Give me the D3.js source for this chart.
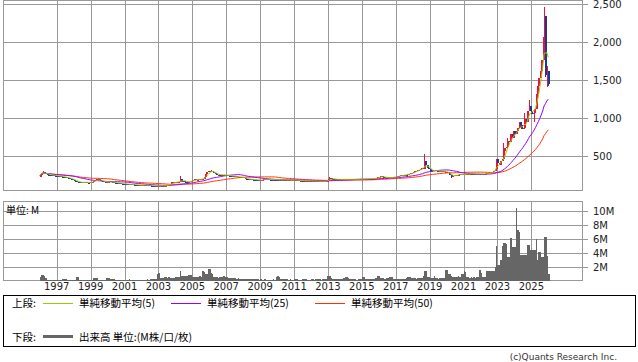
<!DOCTYPE html>
<html>
<head>
<meta charset="utf-8">
<script src="https://cdn.jsdelivr.net/npm/d3@7"></script>
<style>
  body { margin: 0; background: #fff; }
  svg { display: block; font-family: "DejaVu Sans", sans-serif; }
</style>
</head>
<body>
<div id="chart"></div>
<script>
// monthly bars, Jan 1996 .. Jan 2026 (one row per year)
const firstOpen = 215;
const closes = [
  240, 275, 290, 270, 258, 250, 248, 245, 242, 240, 236, 235,
  232, 230, 226, 224, 220, 216, 212, 208, 205, 198, 190, 180,
  172, 165, 158, 150, 146, 140, 148, 154, 150, 144, 140, 148,
  152, 158, 165, 178, 192, 186, 176, 166, 160, 154, 150, 150,
  155, 160, 150, 148, 145, 142, 140, 136, 135, 132, 130, 128,
  126, 125, 122, 120, 118, 120, 117, 115, 114, 112, 110, 110,
  112, 112, 110, 108, 110, 107, 105, 103, 102, 100, 100, 98,
  101, 104, 100, 98, 100, 104, 110, 118, 132, 148, 155, 145,
  150, 152, 158, 190, 172, 162, 158, 155, 152, 155, 162, 172,
  182, 186, 180, 185, 190, 186, 190, 196, 222, 252, 280, 300,
  292, 302, 282, 266, 256, 250, 250, 246, 250, 244, 240, 246,
  240, 238, 234, 230, 232, 228, 225, 222, 220, 218, 214, 212,
  208, 198, 190, 185, 190, 188, 185, 184, 182, 180, 177, 175,
  180, 182, 186, 190, 188, 186, 184, 183, 182, 185, 183, 180,
  178, 182, 178, 182, 180, 178, 176, 180, 178, 175, 176, 178,
  180, 178, 175, 164, 170, 172, 170, 168, 170, 164, 168, 166,
  165, 165, 163, 165, 162, 160, 162, 160, 158, 160, 163, 172,
  195, 205, 196, 190, 186, 189, 186, 187, 186, 187, 186, 187,
  188, 188, 187, 188, 189, 188, 189, 190, 190, 189, 190, 191,
  192, 193, 194, 196, 198, 197, 196, 198, 197, 202, 208, 214,
  222, 232, 222, 212, 210, 208, 212, 216, 210, 213, 216, 222,
  226, 230, 236, 240, 238, 246, 250, 248, 256, 262, 266, 272,
  282, 292, 300, 310, 316, 325, 334, 330, 432, 380, 340, 318,
  290, 302, 312, 305, 300, 295, 290, 296, 300, 292, 286, 290,
  280, 268, 246, 214, 230, 240, 246, 250, 248, 252, 254, 250,
  256, 256, 262, 258, 263, 260, 258, 255, 260, 263, 258, 255,
  258, 262, 258, 262, 266, 268, 265, 272, 285, 300, 330, 455,
  402, 380, 425, 455, 560, 600, 620, 700, 680, 790, 740, 830,
  780, 830, 870, 950, 900, 850, 870, 990, 950, 1090, 1150, 1090,
  1050, 1070, 1120, 1320, 1420, 1520, 1620, 1760, 2000, 2350, 1560, 1620,
  1450
];

// volume in millions, same months
const volumes = [
  0.55, 0.8, 0.8, 0.6, 0.3, 0.1, 0.06, 0.05, 0.06, 0.1, 0.05, 0.04,
  0.05, 0.05, 0.06, 0.1, 0.25, 0.25, 0.22, 0.06, 0.05, 0.05, 0.04, 0.05,
  0.06, 0.05, 0.5, 0.45, 0.06, 0.05, 0.05, 0.04, 0.05, 0.05, 0.04, 0.05,
  0.05, 0.1, 0.3, 0.35, 0.33, 0.12, 0.05, 0.05, 0.06, 0.05, 0.05, 0.3,
  0.32, 0.3, 0.25, 0.18, 0.15, 0.1, 0.1, 0.12, 0.1, 0.08, 0.1, 0.08,
  0.1, 0.1, 0.12, 0.15, 0.1, 0.08, 0.1, 0.12, 0.08, 0.1, 0.1, 0.08,
  0.1, 0.1, 0.08, 0.12, 0.15, 0.1, 0.25, 0.25, 0.2, 0.25, 0.22, 1.0,
  1.05, 0.35, 0.35, 0.3, 0.45, 0.45, 0.4, 0.45, 0.35, 0.35, 0.3, 0.35,
  0.45, 0.45, 0.5, 1.3, 0.6, 0.65, 0.7, 0.7, 0.7, 0.75, 0.8, 0.8,
  0.45, 0.45, 0.45, 0.55, 0.55, 0.6, 0.55, 1.3, 1.25, 0.9, 0.95, 1.65,
  1.7, 1.05, 1.0, 0.5, 0.45, 0.45, 0.4, 0.45, 0.5, 0.55, 0.6, 0.55,
  0.55, 0.35, 0.35, 0.35, 0.3, 0.35, 0.3, 0.25, 0.3, 0.25, 0.2, 0.25,
  0.25, 0.25, 0.2, 0.25, 0.2, 0.15, 0.2, 0.15, 0.15, 0.2, 0.15, 0.12,
  0.15, 0.1, 0.12, 0.15, 0.1, 0.1, 0.12, 0.1, 0.1, 0.15, 0.12, 0.55,
  0.6, 0.55, 0.25, 0.25, 0.2, 0.2, 0.15, 0.15, 0.1, 0.15, 0.1, 0.12,
  0.25, 0.2, 0.15, 0.1, 0.12, 0.1, 0.15, 0.2, 0.15, 0.1, 0.12, 0.1,
  0.2, 0.15, 0.12, 0.2, 0.25, 0.2, 0.15, 0.12, 0.15, 0.2, 0.25, 0.65,
  0.7, 0.6, 0.3, 0.25, 0.2, 0.25, 0.2, 0.15, 0.2, 0.15, 0.25, 0.3,
  0.57, 0.55, 0.3, 0.25, 0.2, 0.15, 0.2, 0.15, 0.12, 0.15, 0.2, 0.25,
  0.5, 0.5, 0.2, 0.15, 0.2, 0.15, 0.25, 0.2, 0.25, 0.3, 0.35, 0.65,
  0.67, 0.35, 0.3, 0.3, 0.25, 0.3, 0.3, 0.45, 0.43, 0.43, 0.25, 0.2,
  0.2, 0.15, 0.2, 0.2, 0.15, 0.2, 0.25, 0.4, 0.57, 0.57, 0.55, 0.3,
  0.3, 0.3, 0.25, 0.3, 0.3, 0.35, 0.4, 0.6, 1.38, 1.35, 0.57, 0.5,
  0.35, 0.3, 0.35, 0.7, 0.35, 0.3, 0.25, 0.3, 0.3, 0.35, 0.4, 1.5,
  1.5, 0.9, 0.9, 0.6, 0.55, 0.55, 0.5, 0.55, 0.6, 0.57, 0.9, 0.9,
  1.3, 1.2, 0.45, 0.45, 0.4, 0.45, 0.4, 0.45, 0.4, 0.45, 0.45, 1.5,
  1.1, 0.45, 0.5, 0.45, 1.38, 1.38, 1.3, 1.3, 1.3, 1.3, 1.86, 5.0,
  2.25, 2.2, 3.0, 5.0, 5.3, 5.3, 5.2, 3.4, 3.4, 6.1, 4.8, 4.8,
  4.8, 10.4, 7.2, 7.0, 3.7, 3.7, 3.7, 3.7, 3.7, 5.1, 5.1, 4.4,
  4.4, 4.4, 4.4, 6.0, 3.0, 4.1, 4.1, 3.4, 3.4, 6.2, 6.2, 3.5,
  1.0
];

// wicks that stick out of the bodies: [month, high, low]
const wicks = [
  ["1996-03", 300, null], ["2004-04", 228, null], ["2006-02", 316, null],
  ["2013-02", 215, null], ["2018-09", 517, null], ["2020-04", null, 200],
  ["2023-05", 665, null], ["2023-08", 740, null], ["2024-08", 1060, null],
  ["2024-11", 1240, null], ["2025-03", null, 944], ["2025-09", 2070, null],
  ["2025-10", 2466, null], ["2025-11", null, 1540], ["2025-12", 1690, 1410],
  ["2026-01", null, 1420]
];

const maPeriods = [5, 25, 50];
const maLabels = ["単純移動平均(5)", "単純移動平均(25)", "単純移動平均(50)"];
const yearTicks = [1997, 1999, 2001, 2003, 2005, 2007, 2009, 2011, 2013, 2015, 2017, 2019, 2021, 2023, 2025];
const priceTicks = [500, 1000, 1500, 2000, 2500];
const volTicks = [2, 4, 6, 8, 10];

const maColors = ["#99cc00", "#9900ff", "#ff3300"];
const upColor = "#f0103c", downColor = "#123c96", gridColor = "#999";

const svg = d3.select("#chart").append("svg")
    .attr("width", 638)
    .attr("height", 362)

const months = closes.map((c, i) => new Date(1996, i, 1))

const x = d3.scaleTime()
    .domain([new Date(1993, 9, 31), new Date(2027, 11, 28)])
    .range([3, 582])
const y = d3.scaleLinear().domain([40, 2550]).range([190.5, 0.5])
const yv = d3.scaleLinear().domain([0, 11.4]).range([280.5, 200.7])

const px = v => Math.round(v) + 0.5

// grids and frames
const grid = svg.append("g").attr("stroke", gridColor).attr("fill", "none").attr("shape-rendering", "crispEdges")
yearTicks.forEach(yr => {
    const gx = px(x(new Date(yr, 0, 1)))
    grid.append("line").attr("x1", gx).attr("x2", gx).attr("y1", 0.5).attr("y2", 190.5)
    grid.append("line").attr("x1", gx).attr("x2", gx).attr("y1", 201.5).attr("y2", 280.5)
})
priceTicks.forEach(v => {
    grid.append("line").attr("x1", 3.5).attr("x2", 588).attr("y1", px(y(v))).attr("y2", px(y(v)))
})
volTicks.forEach(v => {
    grid.append("line").attr("x1", 3.5).attr("x2", 588).attr("y1", px(yv(v))).attr("y2", px(yv(v)))
})
grid.append("rect").attr("x", 3.5).attr("y", 0.5).attr("width", 579).attr("height", 190)
grid.append("rect").attr("x", 3.5).attr("y", 201.5).attr("width", 579).attr("height", 79)

// tick labels
svg.selectAll(".pt").data(priceTicks).join("text")
    .attr("x", 593).attr("y", d => y(d) + 4)
    .attr("font-size", 10).attr("fill", "#222")
    .text(d => d3.format(",")(d))
svg.selectAll(".vt").data(volTicks).join("text")
    .attr("x", 593).attr("y", d => yv(d) + 4)
    .attr("font-size", 10).attr("fill", "#222")
    .text(d => d + "M")
svg.selectAll(".yt").data(yearTicks).join("text")
    .attr("x", d => x(new Date(d, 0, 1))).attr("y", 290)
    .attr("text-anchor", "middle")
    .attr("font-size", 10).attr("fill", "#222")
    .text(d => d)

// volume bars
const step = x(months[1]) - x(months[0])
svg.append("g").attr("fill", "#666").attr("shape-rendering", "crispEdges")
    .selectAll("rect").data(volumes).join("rect")
    .attr("x", (d, i) => x(months[i]))
    .attr("width", step)
    .attr("y", d => yv(d))
    .attr("height", d => yv(0) - yv(d))

svg.append("text").attr("x", 6).attr("y", 214)
    .attr("font-family", "'Noto Sans CJK JP'").attr("font-size", 10)
    .text("単位: M")

// candles
const wickMap = new Map(wicks.map(w => {
    const [yy, mm] = w[0].split("-").map(Number)
    return [(yy - 1996) * 12 + mm - 1, w]
}))
const bars = closes.map((c, i) => {
    const o = i === 0 ? firstOpen : closes[i - 1]
    const w = wickMap.get(i)
    let hi = Math.max(o, c), lo = Math.min(o, c)
    if (w && w[1] != null) hi = Math.max(hi, w[1])
    if (w && w[2] != null) lo = Math.min(lo, w[2])
    return { date: months[i], o: o, c: c, hi: hi, lo: lo }
})
const candles = svg.append("g").attr("shape-rendering", "crispEdges")
candles.selectAll("line").data(bars).join("line")
    .attr("x1", d => px(x(d.date))).attr("x2", d => px(x(d.date)))
    .attr("y1", d => y(d.hi)).attr("y2", d => y(d.lo))
    .attr("stroke", d => d.c >= d.o ? upColor : downColor)
candles.selectAll("rect").data(bars).join("rect")
    .attr("x", d => Math.round(x(d.date)) - 0.5)
    .attr("width", 2)
    .attr("y", d => y(Math.max(d.o, d.c)))
    .attr("height", d => Math.max(1, Math.abs(y(d.o) - y(d.c))))
    .attr("fill", d => d.c >= d.o ? upColor : downColor)

// moving averages
function sma(arr, n) {
    return arr.map((_, i) => d3.mean(arr.slice(Math.max(0, i - n + 1), i + 1)))
}
const line = d3.line().x((d, i) => x(months[i])).y(d => y(d))
maPeriods.slice().reverse().forEach((n, k) => {
    const idx = maPeriods.length - 1 - k
    svg.append("path")
        .attr("d", line(sma(closes, n)))
        .attr("fill", "none")
        .attr("stroke", maColors[idx])
        .attr("stroke-width", 1)
})

// legend
const lg = svg.append("g").attr("font-family", "'Noto Sans CJK JP'").attr("font-size", 10.5)
lg.append("rect").attr("x", 3.5).attr("y", 295.5).attr("width", 632).attr("height", 51)
    .attr("fill", "none").attr("stroke", "#000")
lg.append("text").attr("x", 12).attr("y", 307).text("上段:")
const legX = [43, 171, 315]
maLabels.forEach((lab, i) => {
    lg.append("line").attr("x1", legX[i]).attr("x2", legX[i] + 30).attr("y1", 303.5).attr("y2", 303.5)
        .attr("stroke", maColors[i])
    lg.append("text").attr("x", legX[i] + 36).attr("y", 307).text(lab)
})
lg.append("text").attr("x", 12).attr("y", 340.5).text("下段:")
lg.append("line").attr("x1", 43).attr("x2", 73).attr("y1", 336.5).attr("y2", 336.5)
    .attr("stroke", "#666").attr("stroke-width", 3)
lg.append("text").attr("x", 79).attr("y", 340.5).text("出来高 単位:(M株/口/枚)")

svg.append("text").attr("x", 617).attr("y", 360)
    .attr("text-anchor", "end").attr("font-size", 9).attr("fill", "#333")
    .text("(c)Quants Research Inc.")
</script>
</body>
</html>
